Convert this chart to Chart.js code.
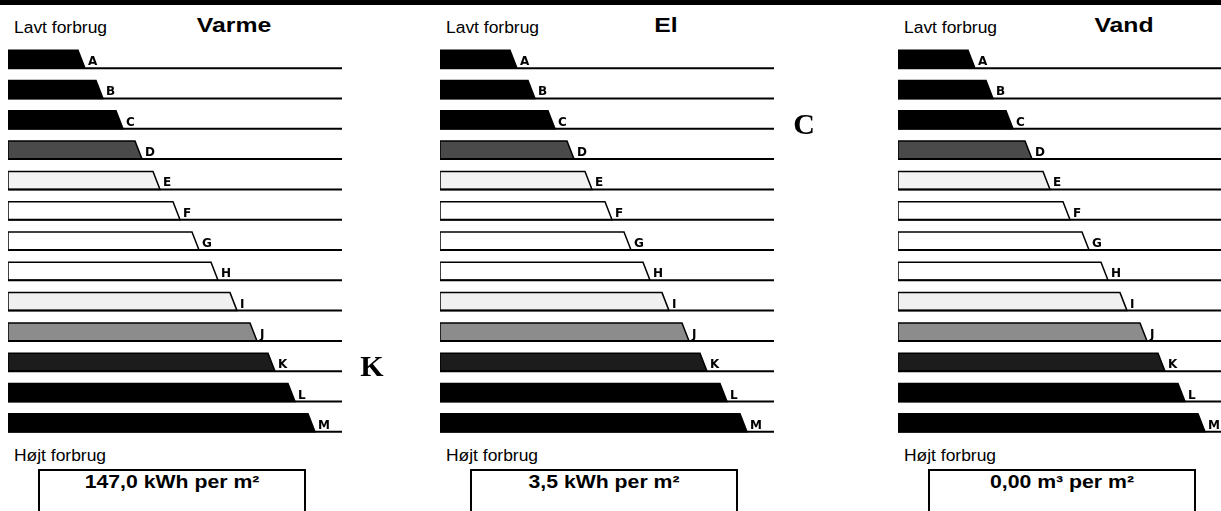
<!DOCTYPE html>
<html>
<head>
<meta charset="utf-8">
<script src="https://cdn.jsdelivr.net/npm/chart.js@4.4.1/dist/chart.umd.min.js"></script>
<style>
  body { margin: 0; width: 1221px; height: 511px; overflow: hidden; background: #fff; position: relative;
         font-family: "Liberation Sans", Arial, sans-serif; color: #000; }
  .topbar { position: absolute; left: 0; top: 0; width: 1221px; height: 5px; background: #000; }
  .wrap { position: absolute; top: 44px; width: 384px; height: 394px; }
  .lav, .hoj { position: absolute; font-size: 16px; line-height: 16px; white-space: nowrap;
               transform: scaleX(1.09); transform-origin: left center; }
  .lav { top: 20px; }
  .hoj { top: 448px; }
  .titel { position: absolute; top: 14px; width: 200px; margin-left: -100px; text-align: center;
           font-weight: bold; font-size: 21px; line-height: 21px; transform: scaleX(1.18); }
  .boks { position: absolute; top: 469px; width: 264px; height: 60px; border: 2px solid #000; border-bottom: none; }
  .vaerdi { position: absolute; top: 2px; left: 0; right: 0; text-align: center; font-weight: bold;
            font-size: 18px; line-height: 18px; white-space: nowrap; transform: scaleX(1.18); }
</style>
</head>
<body>
<div class="topbar"></div>
<script>
// energimærke: tre skalaer med klasser A-M

var classes = ['A', 'B', 'C', 'D', 'E', 'F', 'G', 'H', 'I', 'J', 'K', 'L', 'M']; // klasser
var classEnds = [77, 95, 115, 134, 152, 172, 191, 210, 229, 249, 267, 287, 307]; // søjlelængde
var scaleMax = 334;
var panelTitles = ['Varme', 'El', 'Vand'];
var panelRatings = ['K', 'C', ''];
var panelValues = ['147,0 kWh per m²', '3,5 kWh per m²', '0,00 m³ per m²'];

var classFills = ['#000', '#000', '#000', '#4a4a4a', '#f2f2f2', '#fff', '#fff', '#fff',
                  '#f0f0f0', '#8c8c8c', '#1c1c1c', '#000', '#000']; // farver
var panelLeft = [8, 440, 898];

// tegner søjlerne med skrå ende
var skiltPlugin = {
  id: 'skilt',
  afterDatasetsDraw: function (chart) {
    var ctx = chart.ctx;
    var area = chart.chartArea;
    var meta = chart.getDatasetMeta(0);
    ctx.save();
    meta.data.forEach(function (el, i) {
      var p = el.getProps(['x', 'y', 'base', 'height'], true);
      var top = p.y - p.height / 2;
      var bottom = p.y + p.height / 2;
      ctx.beginPath();
      ctx.moveTo(p.base, top);
      ctx.lineTo(p.x - 7, top);
      ctx.lineTo(p.x, bottom);
      ctx.lineTo(p.base, bottom);
      ctx.closePath();
      ctx.fillStyle = classFills[i];
      ctx.fill();
      ctx.lineWidth = 1.5;
      ctx.strokeStyle = '#000';
      ctx.stroke();
      // grundlinje
      ctx.beginPath();
      ctx.moveTo(p.base, bottom);
      ctx.lineTo(area.right, bottom);
      ctx.lineWidth = 2;
      ctx.stroke();
      // bogstav
      ctx.fillStyle = '#000';
      ctx.font = 'bold 12px "DejaVu Sans"';
      ctx.textAlign = 'left';
      ctx.textBaseline = 'alphabetic';
      ctx.fillText(classes[i], p.x + 3, bottom - 3);
    });
    var rating = chart.options.plugins.skilt.rating;
    if (rating) {
      var y = chart.scales.y.getPixelForValue(classes.indexOf(rating));
      ctx.font = 'bold 30px "Liberation Serif"';
      ctx.textAlign = 'center';
      ctx.fillText(rating, area.right + 30, y + 14);
    }
    ctx.restore();
  }
};

panelTitles.forEach(function (title, k) {
  var x0 = panelLeft[k];
  var html = '';
  html += '<div class="lav" style="left:' + (x0 + 6) + 'px">Lavt forbrug</div>';
  html += '<div class="titel" style="left:' + (x0 + 226) + 'px">' + title + '</div>';
  html += '<div class="wrap" style="left:' + x0 + 'px"><canvas id="chart' + k + '"></canvas></div>';
  html += '<div class="hoj" style="left:' + (x0 + 6) + 'px">Højt forbrug</div>';
  html += '<div class="boks" style="left:' + (x0 + 30) + 'px"><div class="vaerdi">' + panelValues[k] + '</div></div>';
  document.body.insertAdjacentHTML('beforeend', html);
});

panelTitles.forEach(function (title, k) {
  new Chart(document.getElementById('chart' + k), {
    type: 'bar',
    data: {
      labels: classes,
      datasets: [{
        label: title,
        data: classEnds,
        backgroundColor: 'rgba(0,0,0,0)',
        borderWidth: 0,
        barThickness: 18
      }]
    },
    options: {
      indexAxis: 'y',
      responsive: true,
      maintainAspectRatio: false,
      animation: false,
      layout: { padding: { left: 0, right: 50, top: 0, bottom: 0 } },
      scales: {
        x: { display: false, min: 0, max: scaleMax },
        y: { display: false }
      },
      plugins: {
        legend: { display: false },
        tooltip: { enabled: false },
        skilt: { rating: panelRatings[k] }
      }
    },
    plugins: [skiltPlugin]
  });
});
</script>
</body>
</html>
